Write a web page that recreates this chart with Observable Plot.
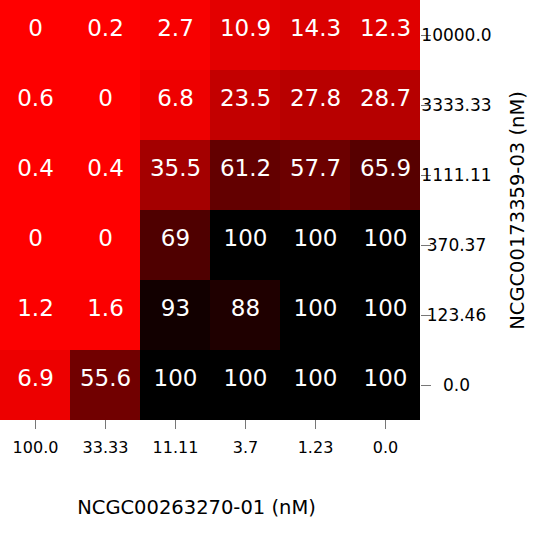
<!DOCTYPE html>
<html>
<head>
<meta charset="utf-8">
<script src="https://cdn.jsdelivr.net/npm/d3@7"></script>
<script src="https://cdn.jsdelivr.net/npm/@observablehq/plot@0.6"></script>
<style>
  html, body { margin: 0; padding: 0; background: #fff; }
  svg { font-family: "DejaVu Sans", sans-serif; }
</style>
</head>
<body>
<div id="chart"></div>
<script>
const xLabels = ["100.0", "33.33", "11.11", "3.7", "1.23", "0.0"];
const yLabels = ["10000.0", "3333.33", "1111.11", "370.37", "123.46", "0.0"];
const values = [
  [0, 0.2, 2.7, 10.9, 14.3, 12.3],
  [0.6, 0, 6.8, 23.5, 27.8, 28.7],
  [0.4, 0.4, 35.5, 61.2, 57.7, 65.9],
  [0, 0, 69, 100, 100, 100],
  [1.2, 1.6, 93, 88, 100, 100],
  [6.9, 55.6, 100, 100, 100, 100]
];
const xTitle = "NCGC00263270-01 (nM)";
const yTitle = "NCGC00173359-03 (nM)";

const data = [];
yLabels.forEach((yl, i) => xLabels.forEach((xl, j) => data.push({x: xl, y: yl, v: values[i][j]})));

const chart = Plot.plot({
  width: 560,
  height: 560,
  marginLeft: 0,
  marginTop: 0,
  marginRight: 140,
  marginBottom: 140,
  x: {domain: xLabels, padding: 0},
  y: {domain: yLabels, padding: 0},
  color: {type: "linear", domain: [0, 100], range: ["#ff0000", "#000000"], interpolate: "rgb"},
  marks: [
    Plot.cell(data, {x: "x", y: "y", fill: "v", inset: 0}),
    Plot.text(data, {x: "x", y: "y", text: d => String(d.v), fill: "white", fontSize: 23, dy: -7}),
    Plot.axisX({anchor: "bottom", tickSize: 9, tickPadding: 12, fontSize: 16, stroke: "#777", fill: "#000", label: null}),
    Plot.axisY({anchor: "right", tickSize: 10, tickPadding: 26, textAnchor: "middle", fontSize: 17, stroke: "#777", fill: "#000", label: null}),
    Plot.text([xTitle], {frameAnchor: "bottom", lineAnchor: "middle", textAnchor: "middle", text: d => d, dy: 87, dx: -14, fontSize: 19.5, fill: "#000"}),
    Plot.text([yTitle], {frameAnchor: "right", lineAnchor: "middle", textAnchor: "middle", text: d => d, dx: 97, rotate: -90, fontSize: 19.5, fill: "#000"})
  ]
});
document.getElementById("chart").appendChild(chart);
</script>
</body>
</html>
